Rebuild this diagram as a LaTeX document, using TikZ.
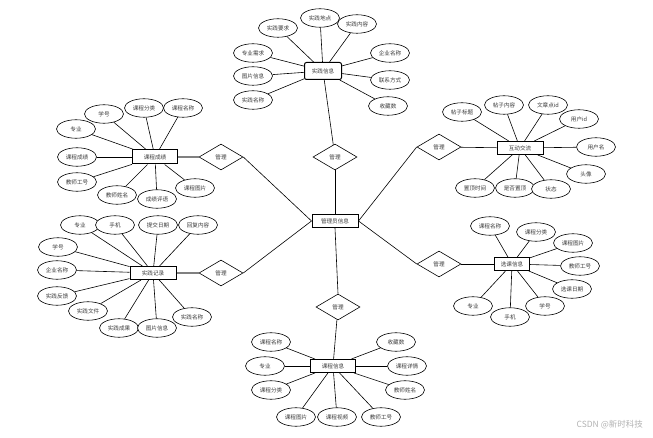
\documentclass[tikz,border=0pt]{standalone}
\usepackage{fontspec}
\newfontfamily\cjk{Noto Sans CJK SC}
\usetikzlibrary{shapes.geometric}
\definecolor{txt}{HTML}{3A3A3A}
\begin{document}
\begin{tikzpicture}[x=1pt,y=-1pt,
  base/.style={font=\cjk\fontsize{5.6}{6.5}\selectfont, text=txt, inner sep=0pt},
  ent/.style={base, draw, line width=1pt, fill=white, minimum width=45pt, minimum height=13pt},
  attr/.style={base, ellipse, draw, line width=0.6pt, fill=white, minimum width=39pt, minimum height=18.5pt},
  rel/.style={base, diamond, draw, line width=0.6pt, fill=white, minimum width=44pt, minimum height=26pt, aspect=1.7},
  ln/.style={line width=0.6pt},
  tk/.style={line width=1.6pt, draw=gray}]
\useasboundingbox (0,0) rectangle (653,438);
% entities
\node[ent, rounded corners=2pt, minimum width=37pt, minimum height=17pt] (sjxx) at (323,71) {实践信息};
\node[ent, minimum width=46pt] (admin) at (335,221) {管理员信息};
\node[ent, minimum height=14pt] (kccj) at (155,157) {课程成绩};
\node[ent, minimum width=46pt] (sjjl) at (153,273) {实践记录};
\node[ent, minimum width=46pt] (hdjl) at (520,148) {互动交流};
\node[ent, minimum width=35pt] (xkxx) at (512,264) {选课信息};
\node[ent] (kcxx) at (333,366) {课程信息};
% relations
\node[rel] (r1) at (221,157) {管理};
\node[rel] (r2) at (221,273) {管理};
\node[rel] (r3) at (335,157) {管理};
\node[rel] (r4) at (439,147) {管理};
\node[rel] (r5) at (439,264) {管理};
\node[rel] (r6) at (338,307) {管理};
% attributes of 实践信息
\node[attr] (a1) at (278,28) {实践要求};
\node[attr] (a2) at (320,18) {实践地点};
\node[attr] (a3) at (357,24) {实践内容};
\node[attr] (a4) at (253,53) {专业需求};
\node[attr] (a5) at (253,76) {图片信息};
\node[attr] (a6) at (253,100) {实践名称};
\node[attr] (a7) at (390,53) {企业名称};
\node[attr] (a8) at (390,80) {联系方式};
\node[attr] (a9) at (388,106) {收藏数};
% attributes of 课程成绩
\node[attr] (b1) at (104,114) {学号};
\node[attr] (b2) at (144,108) {课程分类};
\node[attr] (b3) at (183,108) {课程名称};
\node[attr] (b4) at (76,129) {专业};
\node[attr] (b5) at (77,157) {课程成绩};
\node[attr] (b6) at (77,182) {教师工号};
\node[attr] (b7) at (117,195) {教师姓名};
\node[attr] (b8) at (157,199) {成绩评语};
\node[attr] (b9) at (195,188) {课程图片};
% attributes of 实践记录
\node[attr] (c1) at (80,225) {专业};
\node[attr] (c2) at (115,225) {手机};
\node[attr] (c3) at (158,225) {提交日期};
\node[attr] (c4) at (198,225) {回复内容};
\node[attr] (c5) at (58,247) {学号};
\node[attr] (c6) at (57,270) {企业名称};
\node[attr] (c7) at (57,296) {实践反馈};
\node[attr] (c8) at (88,311) {实践文件};
\node[attr] (c9) at (119,328) {实践成果};
\node[attr] (c10) at (157,328) {图片信息};
\node[attr] (c11) at (192,317) {实践名称};
% attributes of 互动交流
\node[attr] (d1) at (462,112) {帖子标题};
\node[attr] (d2) at (504,105) {帖子内容};
\node[attr] (d3) at (548,105) {文章点id};
\node[attr] (d4) at (579,119) {用户id};
\node[attr] (d5) at (596,147) {用户名};
\node[attr] (d6) at (586,174) {头像};
\node[attr] (d7) at (475,188) {置顶时间};
\node[attr] (d8) at (515,188) {是否置顶};
\node[attr] (d9) at (551,189) {状态};
% attributes of 选课信息
\node[attr] (e1) at (490,226) {课程名称};
\node[attr] (e2) at (536,232) {课程分类};
\node[attr] (e3) at (573,243) {课程图片};
\node[attr] (e4) at (580,266) {教师工号};
\node[attr] (e5) at (572,289) {选课日期};
\node[attr] (e6) at (473,306) {专业};
\node[attr] (e7) at (510,317) {手机};
\node[attr] (e8) at (545,306) {学号};
% attributes of 课程信息
\node[attr] (f1) at (271,342) {课程名称};
\node[attr] (f2) at (265,366) {专业};
\node[attr] (f3) at (271,390) {课程分类};
\node[attr] (f4) at (296,417) {课程图片};
\node[attr] (f5) at (337,417) {课程视频};
\node[attr] (f6) at (381,417) {教师工号};
\node[attr] (f7) at (396,342) {收藏数};
\node[attr] (f8) at (407,366) {课程详情};
\node[attr] (f9) at (405,390) {教师姓名};
% connectors
\foreach \i in {1,...,9} \draw[ln] (sjxx) -- (a\i);
\foreach \i in {1,...,9} \draw[ln] (kccj) -- (b\i);
\foreach \i in {1,...,11} \draw[ln] (sjjl) -- (c\i);
\foreach \i in {1,...,9} \draw[ln] (hdjl) -- (d\i);
\foreach \i in {1,...,8} \draw[ln] (xkxx) -- (e\i);
\foreach \i in {1,...,9} \draw[ln] (kcxx) -- (f\i);
\draw[tk] (kccj) -- (r1);
\draw[tk] (sjjl) -- (r2);
\draw[ln] (r4) -- (hdjl);
\draw[ln] (r5) -- (xkxx);
\draw[ln] (sjxx) -- (r3);
\draw[ln] (r6) -- (kcxx);
\draw[ln] (r1.east) -- (admin.west);
\draw[ln] (r2.east) -- (admin.west);
\draw[ln] (r3.south) -- (admin.north);
\draw[ln] (r4.west) -- (admin.east);
\draw[ln] (r5.west) -- (admin.east);
\draw[ln] (admin.south) -- (r6.north);
% watermark
\node[text=gray!60, font=\fontsize{8.5}{10}\selectfont\cjk, inner sep=0pt, anchor=east] (wm) at (643,425) {CSDN @新时科技};
\end{tikzpicture}
\end{document}
